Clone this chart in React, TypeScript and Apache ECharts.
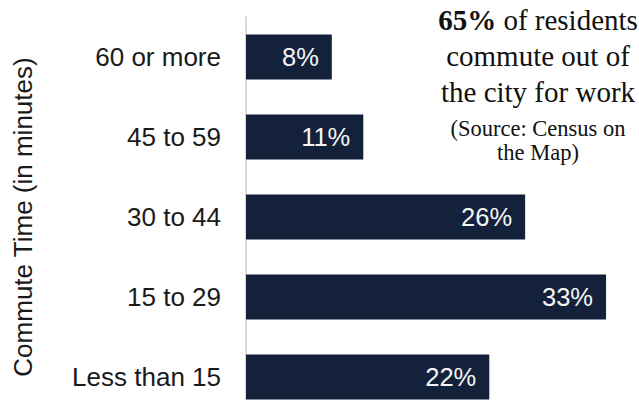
import React, { useEffect, useRef } from "react";
import * as echarts from "echarts";

const categories = ["Less than 15", "15 to 29", "30 to 44", "45 to 59", "60 or more"];
const shares = [22.4, 33.15, 25.7, 10.8, 7.9];
const shareLabels = ["22%", "33%", "26%", "11%", "8%"];
const axisTitle = "Commute Time (in minutes)";
const noteLines = ["{b|65%} of residents", "commute out of", "the city for work"];
const sourceLines = ["(Source: Census on", "the Map)"];

const SANS = "Arial, 'Liberation Sans', sans-serif";
const SERIF = "'Palatino Linotype', 'Book Antiqua', Palatino, 'Liberation Serif', serif";

export default function App() {
  const ref = useRef<HTMLDivElement>(null);
  useEffect(() => {
    if (!ref.current) return;
    const chart = echarts.init(ref.current, undefined, { renderer: "svg" });
    const noteY = [20, 56, 92];
    const srcY = [128.5, 152.5];
    chart.setOption({
      animation: false,
      backgroundColor: "#ffffff",
      grid: { left: 246, right: 2, top: 17, bottom: 0, containLabel: false },
      xAxis: {
        type: "value",
        min: 0,
        max: 36,
        show: false,
        splitLine: { show: false },
      },
      yAxis: {
        type: "category",
        data: categories,
        name: axisTitle,
        nameLocation: "middle",
        nameRotate: 90,
        nameGap: 210,
        nameTextStyle: { fontFamily: SANS, fontSize: 26, color: "#1a1a1a" },
        axisLine: { show: true, lineStyle: { color: "#d9d9d9", width: 2 } },
        axisTick: { show: false },
        axisLabel: { fontFamily: SANS, fontSize: 26, color: "#1a1a1a", margin: 25 },
        splitLine: { show: false },
      },
      series: [
        {
          type: "bar",
          data: shares,
          barWidth: 45,
          itemStyle: { color: "#13213a" },
          label: {
            show: true,
            position: "insideRight",
            distance: 13,
            fontFamily: SANS,
            fontSize: 25.5,
            color: "#f4f4f4",
            formatter: (p: any) => shareLabels[p.dataIndex],
          },
        },
      ],
      graphic: [
        ...noteLines.map((t, i) => ({
          type: "text",
          x: 538,
          y: noteY[i],
          style: {
            text: t,
            fontFamily: SERIF,
            fontSize: 29,
            fill: "#111111",
            textAlign: "center",
            textVerticalAlign: "middle",
            rich: { b: { fontFamily: SERIF, fontSize: 29, fontWeight: "bold", fill: "#111111" } },
          },
        })),
        ...sourceLines.map((t, i) => ({
          type: "text",
          x: 538,
          y: srcY[i],
          style: {
            text: t,
            fontFamily: SERIF,
            fontSize: 22.5,
            fill: "#111111",
            textAlign: "center",
            textVerticalAlign: "middle",
          },
        })),
      ],
    });
    return () => chart.dispose();
  }, []);
  return (
    <div style={{ position: "fixed", left: 0, top: 0, width: 639, height: 400, overflow: "hidden" }}>
      <div ref={ref} style={{ width: 639, height: 417 }} />
    </div>
  );
}
